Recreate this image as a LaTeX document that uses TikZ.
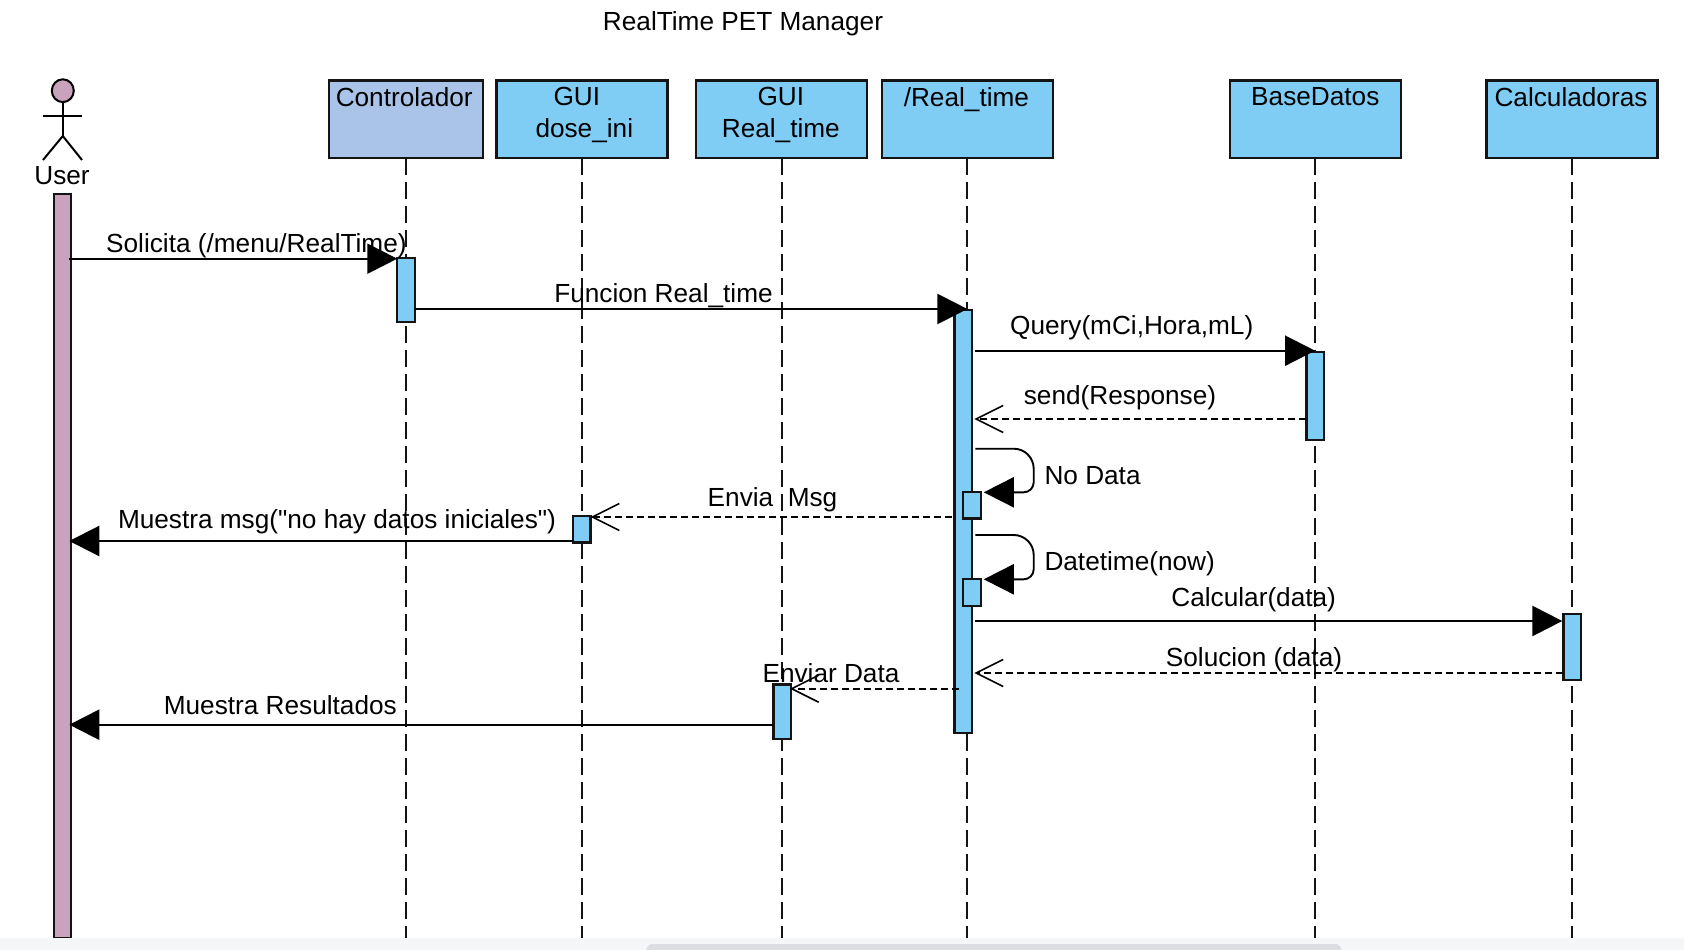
\documentclass[tikz,border=0pt]{standalone}
\usepackage{fontspec}
\setmainfont{Liberation Sans}[Ligatures=TeXOff]
\usetikzlibrary{arrows.meta}
\definecolor{gblue}{HTML}{7FCDF5}
\definecolor{cblue}{HTML}{A9C4E8}
\definecolor{umauve}{HTML}{C9A2BC}
\definecolor{inkc}{HTML}{141414}
\definecolor{stripc}{HTML}{F5F6F7}
\definecolor{scrollc}{HTML}{DCDDE0}
\newcommand{\boxtxt}[2][171pt]{\parbox[t][77pt][t]{#1}{\vspace{7pt}\centering #2\par}}
\tikzset{
  x=1pt,y=1pt,
  every node/.style={font=\fontsize{26.2}{31.2}\selectfont,inner sep=0pt,outer sep=0pt},
  partbox/.style={draw=inkc,line width=2.4pt,fill=gblue,anchor=north,minimum width=171pt,minimum height=77pt},
  actbar/.style={draw=inkc,line width=2.4pt,fill=gblue,anchor=north,minimum width=17.5pt},
  lifeline/.style={draw=inkc,line width=1.9pt,dash pattern=on 17.5pt off 6.5pt},
  callmsg/.style={draw=black,line width=2.2pt,-{Triangle[length=30pt,width=30pt]}},
  retmsg/.style={draw=black,line width=2pt,dash pattern=on 7pt off 4pt,-{Straight Barb[length=27pt,width=27pt,line width=1.6pt]}},
  selfmsg/.style={draw=black,line width=1.9pt,-{Triangle[length=30pt,width=30pt]}},
  msglabel/.style={anchor=base,text=black},
  msglabelw/.style={anchor=base west,text=black},
  actorline/.style={draw=black,line width=2pt},
}
\begin{document}
\begin{tikzpicture}
\useasboundingbox (0,0) rectangle (1684,-950);
\fill[white] (0,0) rectangle (1684,-950);
% levels
\coordinate (y1) at (0,-258.7);
\coordinate (y2) at (0,-309);
\coordinate (y3) at (0,-350.7);
\coordinate (y4) at (0,-419);
\coordinate (y6) at (0,-517);
\coordinate (y7) at (0,-541);
\coordinate (y9) at (0,-621);
\coordinate (y10) at (0,-673);
\coordinate (y11) at (0,-688.7);
\coordinate (y12) at (0,-724.7);
\coordinate (bot) at (0,-938);
\coordinate (s1t) at (0,-448.7);
\coordinate (s1b) at (0,-492.3);
\coordinate (s2t) at (0,-535);
\coordinate (s2b) at (0,-579.3);
\coordinate (loopx) at (1033.7,0);
% title
\node[msglabel] (title) at (743,-30.3) {RealTime PET Manager};
% participants
\node[partbox,fill=cblue,minimum width=154pt] (ctrl) at (405.7,-80.7) {\boxtxt[154pt]{\hspace*{-3pt}Controlador}};
\node[partbox] (gdi) at (581.8,-80.7) {\boxtxt{GUI\hspace*{10pt}\mbox{}\\\hspace*{5pt}dose\_ini}};
\node[partbox] (grt) at (781.6,-80.7) {\boxtxt{\hspace*{-1.5pt}GUI\\\hspace*{-1.5pt}Real\_time}};
\node[partbox] (rt) at (967.4,-80.7) {\boxtxt{\hspace*{-2pt}/Real\_time}};
\node[partbox] (bd) at (1315.3,-80.7) {\boxtxt{BaseDatos}};
\node[partbox] (calc) at (1572,-80.7) {\boxtxt{\hspace*{-2pt}Calculadoras}};
% lifelines
\draw[lifeline] (ctrl.south) -- (ctrl.south |- bot);
\draw[lifeline] (gdi.south) -- (gdi.south |- bot);
\draw[lifeline] (grt.south) -- (grt.south |- bot);
\draw[lifeline] (rt.south) -- (rt.south |- bot);
\draw[lifeline] (bd.south) -- (bd.south |- bot);
\draw[lifeline] (calc.south) -- (calc.south |- bot);
% actor
\draw[actorline,fill=umauve] (62.8,-90.7) ellipse (11pt and 11.4pt);
\coordinate (neck) at (62.8,-102);
\coordinate (hip) at (62.8,-136);
\draw[actorline] (neck) -- (hip);
\draw[actorline] (43,-116) -- (82,-116);
\draw[actorline] (43,-160) -- (hip) -- (82,-160);
\node[msglabel] (user) at (62,-184.3) {User};
% activations
\node[actbar,fill=umauve,minimum height=744pt] (uact) at (62.5,-194) {};
\node[actbar,minimum height=64.3pt] (cact) at (406,-257.7) {};
\node[actbar,minimum height=422.7pt] (rmain) at (963.1,-310) {};
\node[actbar,minimum height=88.3pt] (bact) at (1315.1,-351.7) {};
\node[actbar,minimum height=26.3pt] (dact) at (581.8,-516) {};
\node[actbar,minimum height=26.6pt] (s1) at (972,-491.7) {};
\node[actbar,minimum height=26.7pt] (s2) at (972,-579) {};
\node[actbar,minimum height=65.7pt] (kact) at (1572.1,-614) {};
\node[actbar,minimum height=54.7pt] (gact) at (782.1,-684.3) {};
% messages
\draw[callmsg] ([xshift=-2pt]uact.east |- y1) -- (cact.west |- y1);
\draw[callmsg] (cact.east |- y2) -- (rt.south |- y2);
\draw[callmsg] ([xshift=3.5pt]rmain.east |- y3) -- (bact.north |- y3);
\draw[retmsg] (bact.west |- y4) -- ([xshift=2.5pt]rmain.east |- y4);
\draw[selfmsg] ([xshift=3.5pt]rmain.east |- s1t) [rounded corners=20pt] -- (loopx |- s1t) [rounded corners=10pt] -- (loopx |- s1b) -- ([xshift=3pt]s1.east |- s1b);
\draw[retmsg] ([xshift=-2pt]rmain.west |- y6) -- (dact.east |- y6);
\draw[callmsg] (dact.west |- y7) -- ([xshift=-2pt]uact.east |- y7);
\draw[selfmsg] ([xshift=3.5pt]rmain.east |- s2t) [rounded corners=20pt] -- (loopx |- s2t) [rounded corners=10pt] -- (loopx |- s2b) -- ([xshift=3pt]s2.east |- s2b);
\draw[callmsg] ([xshift=3.5pt]rmain.east |- y9) -- ([xshift=-1pt]kact.west |- y9);
\draw[retmsg] (kact.west |- y10) -- ([xshift=2.5pt]rmain.east |- y10);
\draw[retmsg] ([xshift=5pt]rmain.west |- y11) -- ([xshift=-1pt]gact.east |- y11);
\draw[callmsg] (gact.west |- y12) -- ([xshift=-2pt]uact.east |- y12);
% labels
\node[msglabel] (l1) at (256.4,-252.7) {Solicita (/menu/RealTime)};
\node[msglabel] (l2) at (663.5,-302.7) {Funcion Real\_time};
\node[msglabel] (l3) at (1131.7,-334) {Query(mCi,Hora,mL)};
\node[msglabel] (l4) at (1120,-404) {send(Response)};
\node[msglabelw] (l5) at (1044.5,-484) {No Data};
\node[msglabel] (l6) at (772.5,-506.7) {Envia\ \ Msg};
\node[msglabel] (l7) at (337,-528.7) {Muestra msg("no hay datos iniciales")};
\node[msglabelw] (l8) at (1044.5,-570.3) {Datetime(now)};
\node[msglabel] (l9) at (1253.7,-606.7) {Calcular(data)};
\node[msglabel] (l10) at (1254,-666.7) {Solucion (data)};
\node[msglabel] (l11) at (831,-682.7) {Enviar Data};
\node[msglabel] (l12) at (280.3,-714.3) {Muestra Resultados};
% window strip
\fill[stripc] (0,-938) rectangle (1684,-950);
\fill[scrollc,rounded corners=6pt] (646.6,-944) rectangle (1341.4,-956);
\end{tikzpicture}
\end{document}
